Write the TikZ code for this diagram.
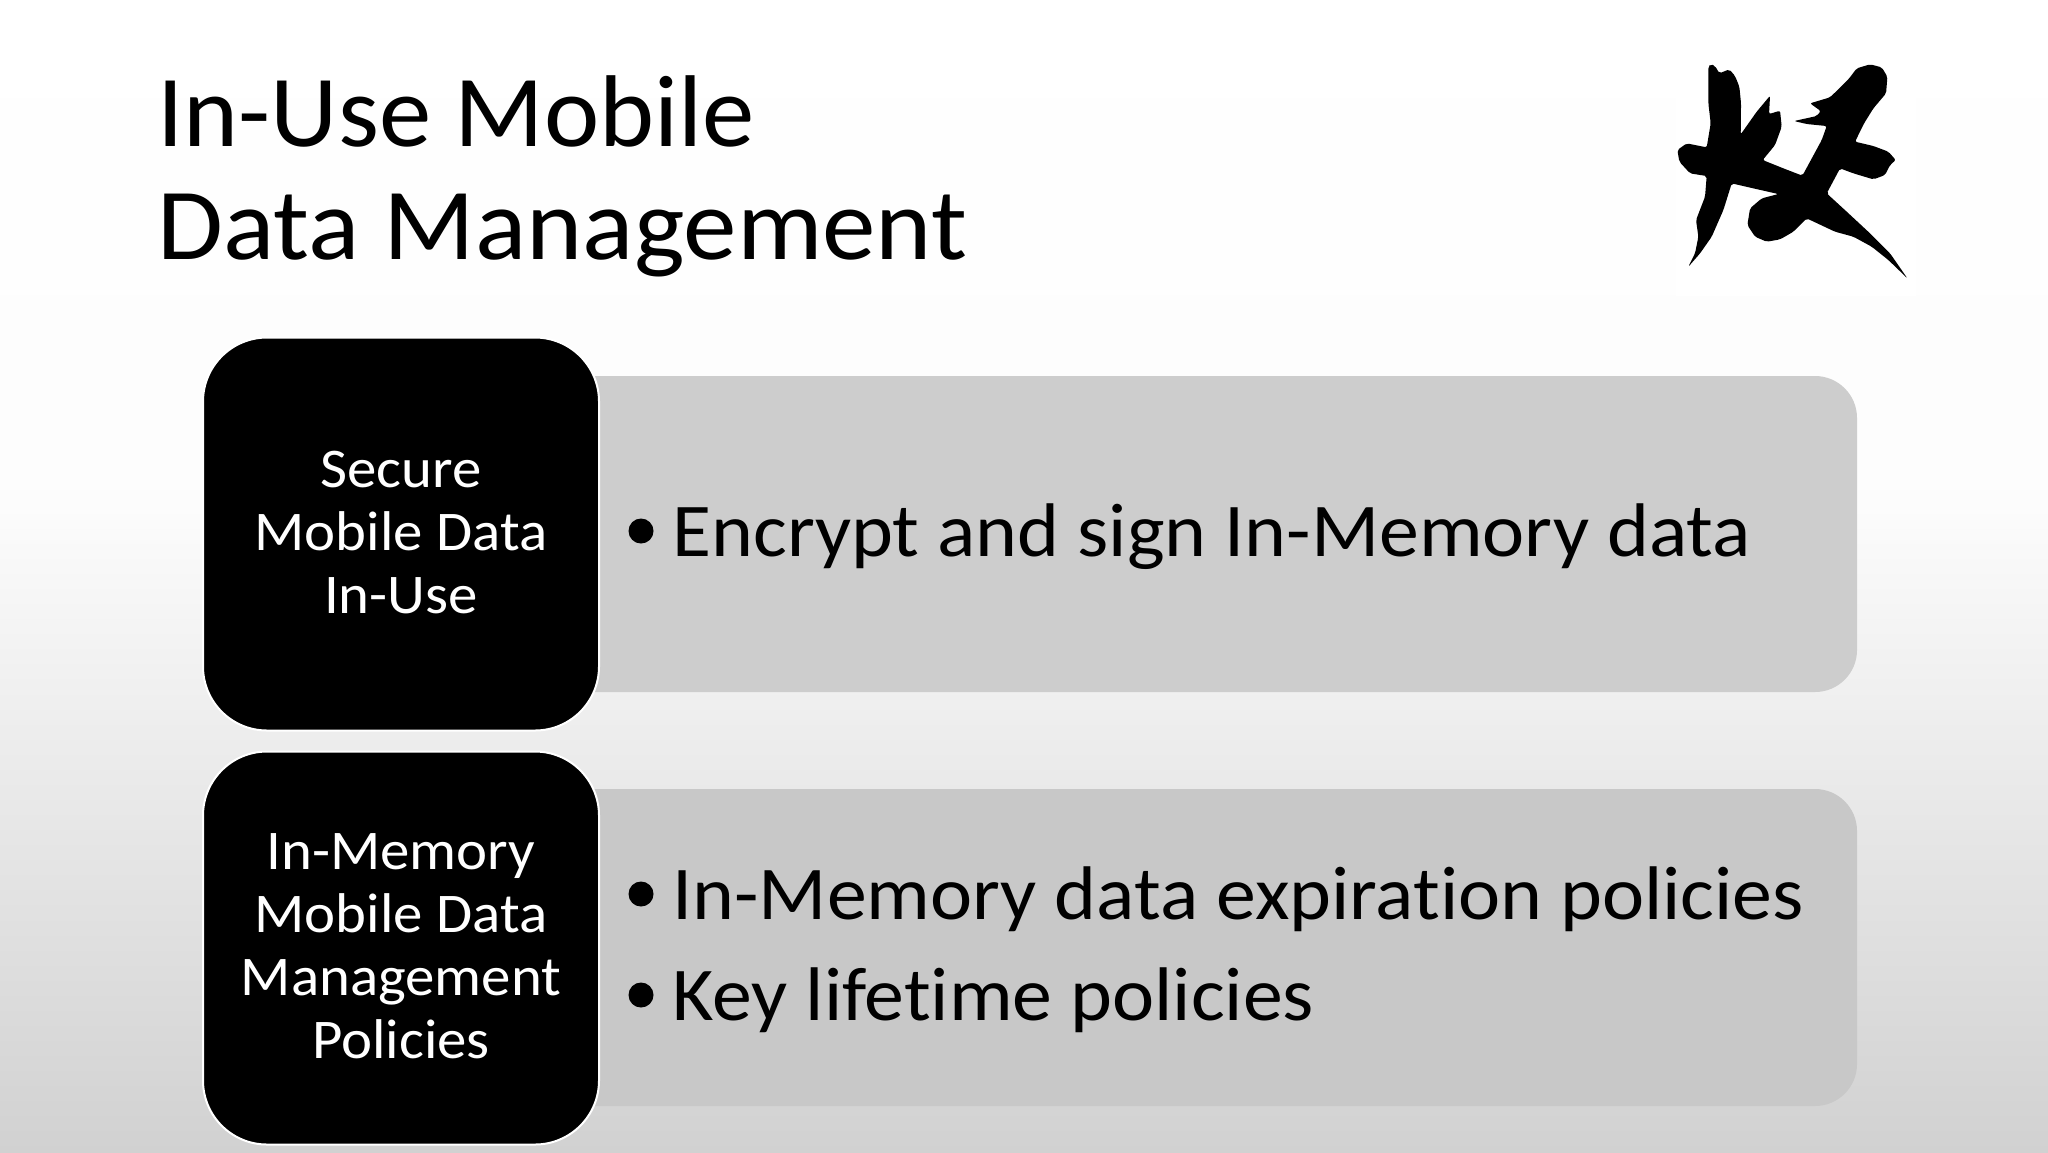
\documentclass[tikz,border=0pt]{standalone}
\usepackage{graphicx}
\usepackage{fontspec}
\setmainfont[Ligatures=NoCommon,FakeStretch=1.05]{Carlito}
\definecolor{panelc}{HTML}{CDCDCD}
\definecolor{paneld}{HTML}{C8C8C8}
\tikzset{
  bluebox/.style={fill=black,draw=white,line width=1pt,rounded corners=32pt,inner sep=0pt},
  panel/.style={rounded corners=21pt},
  boxtext/.style={text=white,align=center,font=\fontsize{28}{31.5}\selectfont},
  bullet/.style={text=black,anchor=base west,inner sep=0pt,font=\fontsize{38}{44}\selectfont},
  titletext/.style={text=black,anchor=base west,inner sep=0pt,align=left,font=\fontsize{51}{56.5}\selectfont},
  dot/.style={circle,fill=black,inner sep=0pt,minimum size=12.5pt}
}
\begin{document}
\begin{tikzpicture}[x=0.5pt,y=-0.5pt]
\useasboundingbox (0,0) rectangle (2048,1152);
\shade[top color=white,bottom color=black!1] (0,0) rectangle (2048,500);
\shade[top color=black!1,bottom color=black!18] (0,499) rectangle (2048,1152);
\fill[white] (1676,60) rectangle (1916,296);
% title
\node[titletext] (title1) at (157,146) {\scalebox{0.978}[1]{In-Use Mobile}};
\node[titletext] (title2) at (157,259) {Data Management};
% logo
\begin{scope}[shift={(1640,40)},x=0.1667pt,y=-0.1667pt]
\fill[black,rounded corners=1pt] (205,80) -- (212,72) -- (225,78) -- (238,100) -- (268,88) -- (285,108) -- (298,140) -- (303,190) -- (302,283)
 -- (350,215) -- (390,167) -- (387,222) -- (420,212) -- (425,260) -- (405,315) -- (368,360)
 -- (430,385) -- (487,407) -- (545,300) -- (560,258) -- (500,252) -- (462,243) -- (530,228) -- (542,213)
 -- (510,190) -- (570,172) -- (625,118) -- (650,85) -- (690,73) -- (725,82) -- (742,110) -- (738,160) -- (700,205)
 -- (672,250) -- (645,305) -- (700,318) -- (745,335) -- (767,360) -- (750,375) -- (735,405) -- (700,418) -- (640,400)
 -- (600,385) -- (560,460) -- (620,515) -- (690,580) -- (750,640) -- (802,715)
 -- (745,660) -- (695,620) -- (640,590) -- (585,575) -- (500,535) -- (460,575) -- (420,598) -- (380,605) -- (345,590) -- (322,555)
 -- (330,505) -- (365,475) -- (415,462) -- (340,445) -- (275,430) -- (250,510) -- (215,590) -- (180,640) -- (145,680) -- (165,640)
 -- (175,590) -- (168,540) -- (195,470) -- (200,408) -- (150,400) -- (118,365) -- (112,330) -- (140,310) -- (200,322)
 -- (212,250) -- (205,190) -- cycle;
\end{scope}
% panels
\fill[panel,fill=panelc] (500,376) rectangle (1857,692);
\fill[panel,fill=paneld] (500,789) rectangle (1857,1106);
% black boxes
\node[bluebox,minimum width=198pt,minimum height=196.5pt] (boxA) at (401,534) {};
\node[boxtext] (boxAt) at (401,533) {Secure\\Mobile Data\\In-Use};
\node[bluebox,minimum width=198pt,minimum height=196.5pt] (boxB) at (401,948) {};
\node[boxtext] (boxBt) at (401,946) {In-Memory\\Mobile Data\\Management\\Policies};
% bullets
\node[dot] (d1) at (641,531) {};
\node[bullet] (b1) at (672,556) {Encrypt and sign In-Memory data};
\node[dot] (d2) at (641,894) {};
\node[bullet] (b2) at (672,919) {In-Memory data expiration policies};
\node[dot] (d3) at (641,995) {};
\node[bullet] (b3) at (672,1020) {Key lifetime policies};
\end{tikzpicture}
\end{document}
